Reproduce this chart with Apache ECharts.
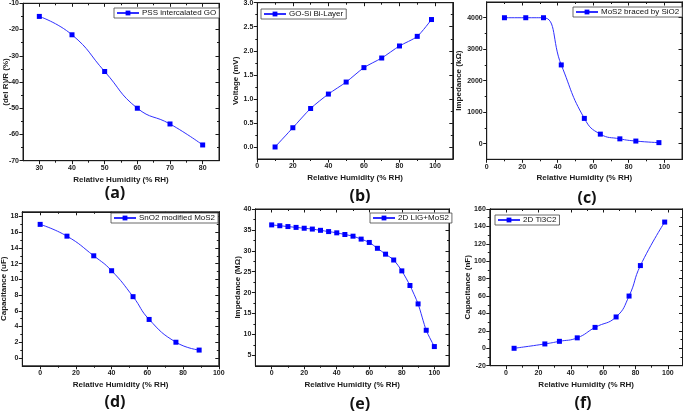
<!DOCTYPE html>
<html><head><meta charset="utf-8">
<script src="https://cdn.jsdelivr.net/npm/echarts@6/dist/echarts.min.js"></script>
<style>html,body{margin:0;padding:0;background:#fff}#c{width:685px;height:411px}</style>
</head><body><div id="c"></div>
<script>
const xTitle = 'Relative Humidity (% RH)';

// (a)
const aName = 'PSS intercalated GO';
const aX = [30, 40, 50, 60, 70, 80];
const aY = [-15, -22, -36, -50, -56, -64];
const aXTicks = [30, 40, 50, 60, 70, 80];
const aXMinor = [35, 45, 55, 65, 75];
const aYTicks = [-70, -60, -50, -40, -30, -20, -10];
const aYMinor = [-65, -55, -45, -35, -25, -15];

// (b)
const bName = 'GO-Si Bi-Layer';
const bX = [10, 20, 30, 40, 50, 60, 70, 80, 90, 98];
const bY = [0, 0.4, 0.8, 1.1, 1.35, 1.65, 1.85, 2.1, 2.3, 2.65];
const bXTicks = [0, 20, 40, 60, 80, 100];
const bXMinor = [10, 30, 50, 70, 90];
const bYTicks = [0, 0.5, 1.0, 1.5, 2.0, 2.5, 3.0];
const bYMinor = [0.25, 0.75, 1.25, 1.75, 2.25, 2.75];

// (c)
const cName = 'MoS2 braced by SiO2';
const cX = [10, 22, 32, 42, 55, 64, 75, 84, 97];
const cY = [4000, 4000, 4000, 2500, 800, 300, 150, 80, 30];
const cXTicks = [0, 20, 40, 60, 80, 100];
const cXMinor = [10, 30, 50, 70, 90];
const cYTicks = [0, 1000, 2000, 3000, 4000];
const cYMinor = [500, 1500, 2500, 3500];

// (d)
const dName = 'SnO2 modified MoS2';
const dX = [0, 15, 30, 40, 52, 61, 76, 89];
const dY = [17, 15.5, 13, 11.1, 7.8, 4.9, 2, 1];
const dXTicks = [0, 20, 40, 60, 80, 100];
const dXMinor = [10, 30, 50, 70, 90];
const dYTicks = [0, 2, 4, 6, 8, 10, 12, 14, 16, 18];
const dYMinor = [1, 3, 5, 7, 9, 11, 13, 15, 17];

// (e)
const eName = '2D LIG+MoS2';
const eX = [0, 5, 10, 15, 20, 25, 30, 35, 40, 45, 50, 55, 60, 65, 70, 75, 80, 85, 90, 95, 100];
const eY = [36.2, 36.0, 35.8, 35.6, 35.4, 35.2, 34.9, 34.6, 34.3, 33.9, 33.5, 32.8, 32.0, 30.6, 29.2, 27.8, 25.2, 21.7, 17.3, 11.0, 7.1];
const eXTicks = [0, 20, 40, 60, 80, 100];
const eXMinor = [10, 30, 50, 70, 90];
const eYTicks = [5, 10, 15, 20, 25, 30, 35, 40];
const eYMinor = [7.5, 12.5, 17.5, 22.5, 27.5, 32.5, 37.5];

// (f)
const fName = '2D Ti3C2';
const fX = [5, 24, 33, 44, 55, 68, 76, 83, 98];
const fY = [0, 5, 8, 12, 24, 36, 60, 95, 145];
const fXTicks = [0, 20, 40, 60, 80, 100];
const fXMinor = [10, 30, 50, 70, 90];
const fYTicks = [-20, 0, 20, 40, 60, 80, 100, 120, 140, 160];
const fYMinor = [-10, 10, 30, 50, 70, 90, 110, 130, 150];

const panels = [
  {name: aName, x: aX, y: aY, xt: aXTicks, xm: aXMinor, yt: aYTicks, ym: aYMinor, xr: [25, 85], yr: [-70, -10],
   yTitle: '(del R)/R (%)', box: [23, 3.3, 196, 157.4], yGap: 13, xGap: 15, leg: [114, 8], smooth: 0.5, label: '(a)', lp: [115, 193]},
  {name: bName, x: bX, y: bY, xt: bXTicks, xm: bXMinor, yt: bYTicks, ym: bYMinor, xr: [0, 110], yr: [-0.25, 3],
   yTitle: 'Voltage (mV)', box: [257.3, 2.7, 195.5, 156.3], yGap: 18, xGap: 15, leg: [261, 9], smooth: 0.25, label: '(b)', lp: [360, 196], fmt: v => v.toFixed(1)},
  {name: cName, x: cX, y: cY, xt: cXTicks, xm: cXMinor, yt: cYTicks, ym: cYMinor, xr: [0, 110], yr: [-500, 4500],
   yTitle: 'Impedance (kΩ)', box: [486.7, 2, 195.3, 157.3], yGap: 24, xGap: 14, leg: [573, 7], smooth: 0.5, label: '(c)', lp: [587, 198]},
  {name: dName, x: dX, y: dY, xt: dXTicks, xm: dXMinor, yt: dYTicks, ym: dYMinor, xr: [-10, 100], yr: [-1, 18.6],
   yTitle: 'Capacitance (uF)', box: [22.3, 211.8, 196.5, 154], yGap: 14.5, xGap: 15, leg: [111, 213], smooth: 0.5, label: '(d)', lp: [115, 402]},
  {name: eName, x: eX, y: eY, xt: eXTicks, xm: eXMinor, yt: eYTicks, ym: eYMinor, xr: [-10, 109], yr: [2.5, 40],
   yTitle: 'Impedance (MΩ)', box: [255.4, 209, 193.6, 156.8], yGap: 14, xGap: 15, leg: [370, 213], smooth: 0.25, label: '(e)', lp: [360, 404]},
  {name: fName, x: fX, y: fY, xt: fXTicks, xm: fXMinor, yt: fYTicks, ym: fYMinor, xr: [-10, 109], yr: [-20, 160],
   yTitle: 'Capacitance (nF)', box: [489.8, 209, 192.7, 156.7], yGap: 18, xGap: 15, leg: [495, 215], smooth: 0.5, label: '(f)', lp: [583, 403]}
];

const AX = '#1a1a1a';
const FONT = '"Liberation Sans", Arial, sans-serif';
const grids = [], xAxes = [], yAxes = [], series = [], legends = [], graphics = [];

function axisBase(gi, r, pos, major, vals, inside, labels, fmt) {
  return {
    show: true, gridIndex: gi, type: 'value', min: r[0], max: r[1], position: pos, offset: 0,
    axisLine: {show: true, onZero: false, lineStyle: {color: AX, width: 1}},
    axisTick: {show: true, inside: inside, length: major ? 3.5 : 2, customValues: vals, lineStyle: {color: AX, width: 1}},
    axisLabel: {show: true, customValues: vals, fontSize: 7, fontWeight: 'bold', fontFamily: FONT, color: AX, margin: 4,
      formatter: labels ? (fmt || (v => String(v))) : (() => '')},
    splitLine: {show: false}
  };
}

panels.forEach((p, i) => {
  grids.push({left: p.box[0], top: p.box[1], width: p.box[2], height: p.box[3], containLabel: false,
    outerBoundsMode: 'none',
    show: true, borderColor: AX, borderWidth: 1, backgroundColor: 'transparent'});
  const xb = axisBase(i, p.xr, 'bottom', true, p.xt, false, true);
  xb.name = xTitle; xb.nameLocation = 'middle'; xb.nameGap = p.xGap; xb.nameMoveOverlap = false;
  xb.nameTextStyle = {fontSize: 8, fontWeight: 'bold', fontFamily: FONT, color: AX};
  xAxes.push(xb);
  xAxes.push(axisBase(i, p.xr, 'top', true, p.xt, true, false));
  xAxes.push(axisBase(i, p.xr, 'bottom', false, p.xm, false, false));
  xAxes.push(axisBase(i, p.xr, 'top', false, p.xm, true, false));
  const yl = axisBase(i, p.yr, 'left', true, p.yt, false, true, p.fmt);
  yl.name = p.yTitle; yl.nameLocation = 'middle'; yl.nameGap = p.yGap; yl.nameMoveOverlap = false;
  yl.nameTextStyle = {fontSize: 8, fontWeight: 'bold', fontFamily: FONT, color: AX};
  yAxes.push(yl);
  yAxes.push(axisBase(i, p.yr, 'right', true, p.yt, true, false));
  yAxes.push(axisBase(i, p.yr, 'left', false, p.ym, false, false));
  yAxes.push(axisBase(i, p.yr, 'right', false, p.ym, true, false));
  series.push({
    name: p.name, type: 'line', xAxisIndex: 4 * i, yAxisIndex: 4 * i,
    data: p.x.map((v, j) => [v, p.y[j]]), smooth: p.smooth,
    symbol: 'rect', symbolSize: 5, showSymbol: true,
    lineStyle: {color: '#3030ff', width: 1}, itemStyle: {color: '#0000ff'}
  });
  legends.push({
    data: [p.name], left: p.leg[0], top: p.leg[1], orient: 'horizontal',
    backgroundColor: '#fff', borderColor: '#444', borderWidth: 0.8, borderRadius: 0,
    padding: [1, 3, 1, 2], itemWidth: 22, itemHeight: 6, itemGap: 0, selectedMode: false,
    textStyle: {fontSize: 8, fontFamily: FONT, color: '#111', padding: [0, 0, 0, -2]}
  });
  graphics.push({type: 'text', x: p.lp[0], y: p.lp[1], style: {text: p.label, font: 'bold 16px "Open Sans", sans-serif',
    textAlign: 'center', textVerticalAlign: 'middle', fill: '#111'}});
});

const chart = echarts.init(document.getElementById('c'), null, {renderer: 'canvas'});
chart.setOption({
  animation: false, backgroundColor: '#fff',
  grid: grids, xAxis: xAxes, yAxis: yAxes, series: series, legend: legends, graphic: graphics
});
</script></body></html>
